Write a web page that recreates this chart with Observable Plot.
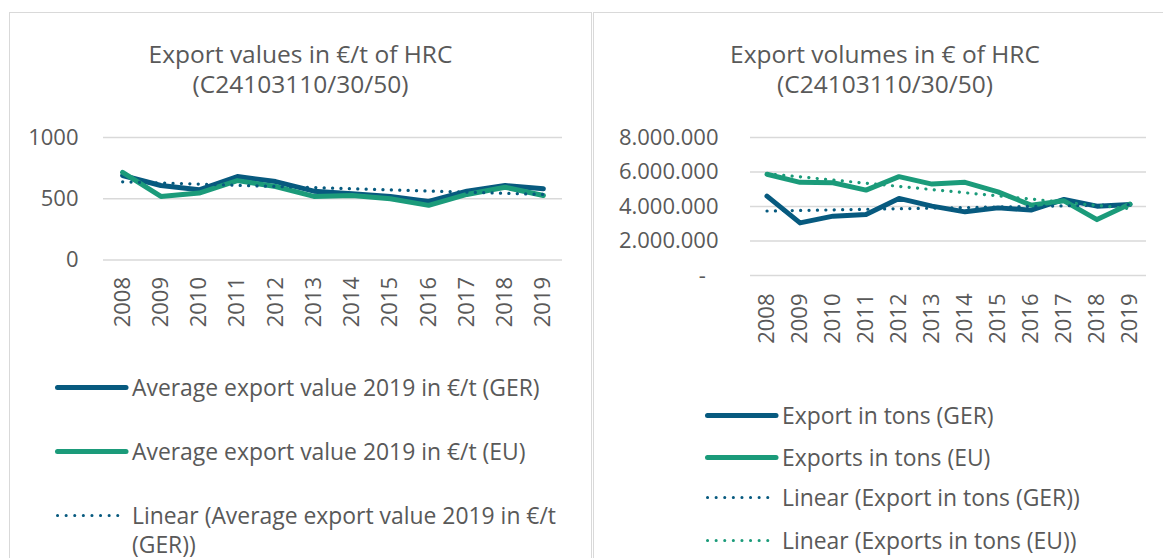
<!DOCTYPE html>
<html>
<head>
<meta charset="utf-8">
<script src="https://cdn.jsdelivr.net/npm/d3@7"></script>
<script src="https://cdn.jsdelivr.net/npm/@observablehq/plot@0.6"></script>
<style>
  html, body { margin: 0; padding: 0; background: #fff; }
  #page { position: relative; width: 1163px; height: 558px; overflow: hidden; background: #fff;
          font-family: "Open Sans", "Noto Sans", sans-serif; color: #595959; }
  .panel { position: absolute; border: 1.3px solid #d9d9d9; box-sizing: border-box; }
  .title { position: absolute; text-align: center; font-size: 24.5px; line-height: 30px; color: #595959; white-space: nowrap; }
  .chart { position: absolute; }
  .lg { position: absolute; font-size: 22.9px; line-height: 29px; color: #595959; }
  .lg svg { position: absolute; left: 0; top: 0; overflow: visible; }
</style>
</head>
<body>
<div id="page">
  <div class="panel" style="left:9px; top:12px; width:583px; height:600px;"></div>
  <div class="panel" style="left:593px; top:12px; width:600px; height:600px;"></div>
  <div class="title" style="left:9px; top:38.5px; width:583px;">Export values in €/t of HRC<br>(C24103110/30/50)</div>
  <div class="title" style="left:593px; top:38.5px; width:584px;">Export volumes in € of HRC<br>(C24103110/30/50)</div>
  <div id="left" class="chart" style="left:0px; top:110px;"></div>
  <div id="right" class="chart" style="left:590px; top:110px;"></div>
  <div id="legendLeft"></div>
  <div id="legendRight"></div>
</div>
<script>
// ---- data ----
const years = [2008, 2009, 2010, 2011, 2012, 2013, 2014, 2015, 2016, 2017, 2018, 2019];
const valueGER = [690, 608, 573, 681, 640, 562, 540, 519, 478, 562, 608, 581];
const valueEU  = [716, 519, 546, 648, 600, 519, 527, 500, 446, 535, 594, 527];
const tonsGER = [4600000, 3050000, 3440000, 3530000, 4470000, 4020000, 3690000, 3920000, 3790000, 4410000, 4020000, 4120000];
const tonsEU  = [5870000, 5400000, 5380000, 4950000, 5730000, 5300000, 5400000, 4850000, 4080000, 4330000, 3240000, 4140000];
const valueTicks = [0, 500, 1000];
const tonsTicks = [0, 2000000, 4000000, 6000000, 8000000];
const legendLeftLabels = ["Average export value 2019 in €/t (GER)", "Average export value 2019 in €/t (EU)", "Linear (Average export value 2019 in €/t (GER))"];
const legendRightLabels = ["Export in tons (GER)", "Exports in tons (EU)", "Linear (Export in tons (GER))", "Linear (Exports in tons (EU))"];

const GER = "#075a7f";
const EU = "#1b9b7a";
const GRID = "#d9d9d9";

const valueRows = years.map((y, i) => ({year: y, ger: valueGER[i], eu: valueEU[i]}));
const tonsRows = years.map((y, i) => ({year: y, ger: tonsGER[i], eu: tonsEU[i]}));

const baseStyle = {fontFamily: "'Open Sans', 'Noto Sans', sans-serif", fontSize: "22px", color: "#595959", background: "transparent", overflow: "visible"};
const solid = {strokeWidth: 5, strokeLinejoin: "round", strokeLinecap: "round"};
const dotted = {strokeWidth: 3.2, strokeDasharray: "0.1 8.3", strokeLinecap: "round", ci: 0};

const left = Plot.plot({
  width: 590, height: 240,
  marginTop: 27, marginBottom: 90.5, marginLeft: 103, marginRight: 28,
  style: baseStyle,
  x: {type: "linear", domain: [2007.5, 2019.5], label: null},
  y: {domain: [0, 1000], label: null},
  marks: [
    Plot.gridY(valueTicks, {stroke: GRID, strokeOpacity: 1, strokeWidth: 1.5}),
    Plot.axisY({ticks: valueTicks, tickSize: 0, tickPadding: 25, tickFormat: d => String(d), label: null}),
    Plot.axisX({ticks: years, tickFormat: d => String(d), tickRotate: -90, tickSize: 0, tickPadding: 17, label: null}),
    Plot.line(valueRows, {x: "year", y: "ger", stroke: GER, ...solid}),
    Plot.line(valueRows, {x: "year", y: "eu", stroke: EU, ...solid}),
    Plot.linearRegressionY(valueRows, {x: "year", y: "ger", stroke: GER, ...dotted})
  ]
});
document.getElementById("left").append(left);

const fmtDE = d => d === 0 ? "-\u2007" : d3.format(",")(d).replace(/,/g, ".");
const right = Plot.plot({
  width: 573, height: 240,
  marginTop: 27, marginBottom: 75, marginLeft: 160, marginRight: 17,
  style: baseStyle,
  x: {type: "linear", domain: [2007.5, 2019.5], label: null},
  y: {domain: [0, 8000000], label: null},
  marks: [
    Plot.gridY(tonsTicks, {stroke: GRID, strokeOpacity: 1, strokeWidth: 1.5}),
    Plot.axisY({ticks: tonsTicks, tickSize: 0, tickPadding: 32, tickFormat: fmtDE, label: null}),
    Plot.axisX({ticks: years, tickFormat: d => String(d), tickRotate: -90, tickSize: 0, tickPadding: 18, label: null}),
    Plot.line(tonsRows, {x: "year", y: "ger", stroke: GER, ...solid}),
    Plot.line(tonsRows, {x: "year", y: "eu", stroke: EU, ...solid}),
    Plot.linearRegressionY(tonsRows, {x: "year", y: "ger", stroke: GER, ...dotted}),
    Plot.linearRegressionY(tonsRows, {x: "year", y: "eu", stroke: EU, ...dotted})
  ]
});
document.getElementById("right").append(right);

// ---- legends ----
const NS = "http://www.w3.org/2000/svg";
function legendItem(parent, x, top, label, color, kind, textWidth) {
  const row = document.createElement("div");
  row.className = "lg";
  row.style.left = x + "px";
  row.style.top = top + "px";
  const svg = document.createElementNS(NS, "svg");
  svg.setAttribute("width", 74);
  svg.setAttribute("height", 30);
  const line = document.createElementNS(NS, "line");
  line.setAttribute("x1", 2.5); line.setAttribute("x2", 71);
  line.setAttribute("y1", 14.5); line.setAttribute("y2", 14.5);
  line.setAttribute("stroke", color);
  line.setAttribute("stroke-linecap", "round");
  if (kind === "solid") {
    line.setAttribute("stroke-width", 5);
  } else {
    line.setAttribute("stroke-width", 3);
    line.setAttribute("stroke-dasharray", "0.1 8.5");
  }
  svg.append(line);
  row.append(svg);
  const t = document.createElement("div");
  t.style.marginLeft = "77px";
  t.style.width = textWidth + "px";
  t.textContent = label;
  row.append(t);
  parent.append(row);
}
const LL = document.getElementById("legendLeft");
legendItem(LL, 55, 373.3, legendLeftLabels[0], GER, "solid", 470);
legendItem(LL, 55, 437.3, legendLeftLabels[1], EU, "solid", 470);
legendItem(LL, 55, 501.3, legendLeftLabels[2], GER, "dot", 440);
const LR = document.getElementById("legendRight");
legendItem(LR, 705, 401.3, legendRightLabels[0], GER, "solid", 390);
legendItem(LR, 705, 443.0, legendRightLabels[1], EU, "solid", 390);
legendItem(LR, 705, 483.4, legendRightLabels[2], GER, "dot", 390);
legendItem(LR, 705, 526.1, legendRightLabels[3], EU, "dot", 390);
</script>
</body>
</html>
